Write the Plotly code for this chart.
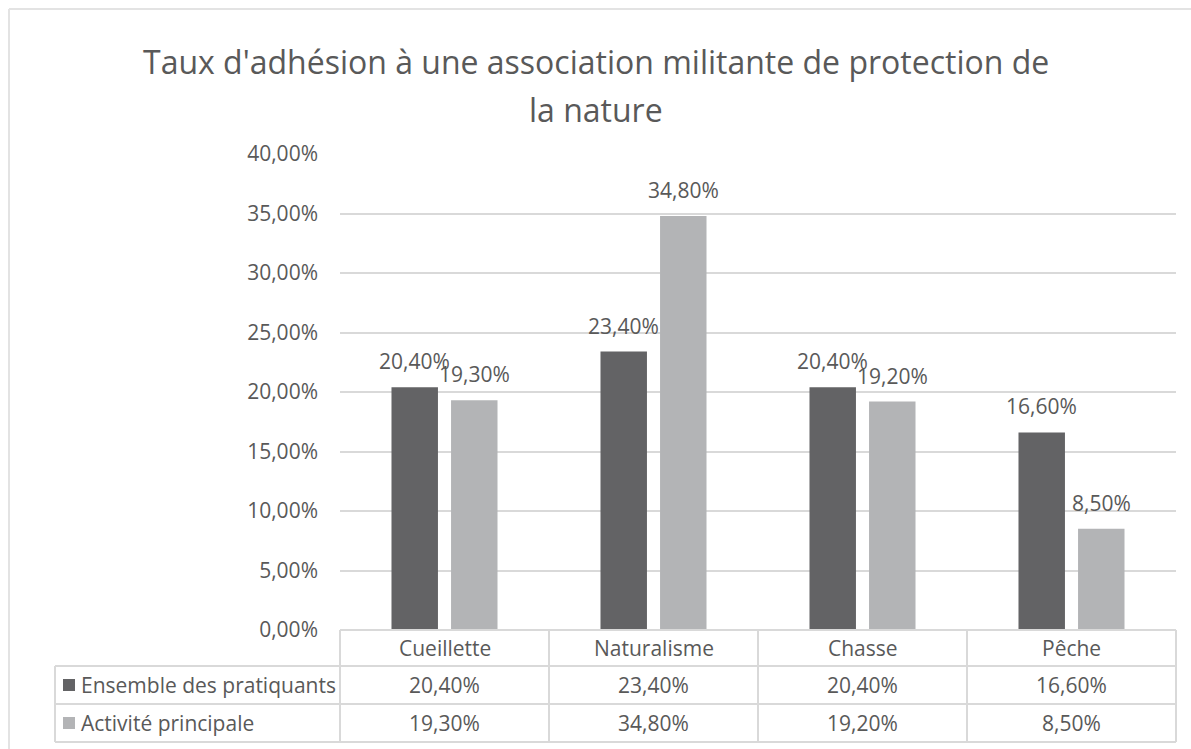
import plotly.graph_objects as go

# Data
categories = ["Cueillette", "Naturalisme", "Chasse", "Pêche"]
series_names = ["Ensemble des pratiquants", "Activité principale"]
ensemble = [20.4, 23.4, 20.4, 16.6]
principale = [19.3, 34.8, 19.2, 8.5]
tick_values = [0, 5, 10, 15, 20, 25, 30, 35, 40]

title_lines = ["Taux d'adhésion à une association militante de protection de", "la nature"]

W, H = 1191, 749
colors = ["#636365", "#b3b4b6"]
text_color = "#595959"
line_color = "#d9d9d9"
font_family = "Open Sans, Noto Sans, sans-serif"
label_size = 21


def pct(v):
    return f"{v:.2f}%".replace(".", ",")


def px(x):
    return x / W


def py(y):
    return 1 - y / H


# Plot area geometry (pixels)
plot_left, plot_right = 340, 1176
plot_top, plot_bottom = 154, 630
row_lines = [630, 666, 704, 742]
table_left = 55

fig = go.Figure()
series = [ensemble, principale]
for name, vals, col in zip(series_names, series, colors):
    fig.add_trace(go.Bar(
        x=categories, y=vals, name=name,
        marker=dict(color=col, line=dict(width=0)),
        showlegend=False, hoverinfo="skip",
    ))

annotations = []
shapes = []

# Value labels above bars
slot = 59.5
for i, vals in enumerate(series):
    for cat, v in zip(categories, vals):
        annotations.append(dict(
            x=cat, y=v, xref="x", yref="y",
            text=pct(v),
            showarrow=False, xshift=(i - 0.5) * slot, yshift=10,
            yanchor="bottom", xanchor="center",
            font=dict(size=label_size, color=text_color, family=font_family),
        ))

# Title
for line, yc in zip(title_lines, [62, 110]):
    annotations.append(dict(
        x=px(596), y=py(yc), xref="paper", yref="paper",
        text=line, showarrow=False, xanchor="center", yanchor="middle",
        font=dict(size=32, color=text_color, family=font_family),
    ))

# Data table
col_w = (plot_right - plot_left) / len(categories)
col_edges = [plot_left + k * col_w for k in range(len(categories) + 1)]

shapes.append(dict(type="line", xref="paper", yref="paper",
                   x0=px(plot_left), x1=px(plot_right), y0=py(row_lines[0]), y1=py(row_lines[0]),
                   line=dict(color=line_color, width=2)))
for yl in row_lines[1:]:
    shapes.append(dict(type="line", xref="paper", yref="paper",
                       x0=px(table_left), x1=px(plot_right), y0=py(yl), y1=py(yl),
                       line=dict(color=line_color, width=2)))
shapes.append(dict(type="line", xref="paper", yref="paper",
                   x0=px(table_left), x1=px(table_left), y0=py(row_lines[1]), y1=py(row_lines[-1]),
                   line=dict(color=line_color, width=2)))
for xe in col_edges:
    shapes.append(dict(type="line", xref="paper", yref="paper",
                       x0=px(xe), x1=px(xe), y0=py(row_lines[0]), y1=py(row_lines[-1]),
                       line=dict(color=line_color, width=2)))

for k, cat in enumerate(categories):
    cx = (col_edges[k] + col_edges[k + 1]) / 2
    annotations.append(dict(
        x=px(cx), y=py((row_lines[0] + row_lines[1]) / 2), xref="paper", yref="paper",
        text=cat, showarrow=False, xanchor="center", yanchor="middle",
        font=dict(size=label_size, color=text_color, family=font_family),
    ))

for r, (name, vals, col) in enumerate(zip(series_names, series, colors)):
    yc = (row_lines[r + 1] + row_lines[r + 2]) / 2
    shapes.append(dict(type="rect", xref="paper", yref="paper",
                       x0=px(63), x1=px(75), y0=py(yc - 6), y1=py(yc + 6),
                       fillcolor=col, line=dict(width=0)))
    annotations.append(dict(
        x=px(79), y=py(yc), xref="paper", yref="paper",
        text=name, showarrow=False, xanchor="left", yanchor="middle",
        font=dict(size=label_size, color=text_color, family=font_family),
    ))
    for k, v in enumerate(vals):
        cx = (col_edges[k] + col_edges[k + 1]) / 2
        annotations.append(dict(
            x=px(cx), y=py(yc), xref="paper", yref="paper",
            text=pct(v), showarrow=False,
            xanchor="center", yanchor="middle",
            font=dict(size=label_size, color=text_color, family=font_family),
        ))

# Chart frame (left and top edges visible)
shapes.append(dict(type="line", xref="paper", yref="paper",
                   x0=px(9), x1=1, y0=py(9), y1=py(9),
                   line=dict(color="#e3e3e3", width=2)))
shapes.append(dict(type="line", xref="paper", yref="paper",
                   x0=px(9), x1=px(9), y0=0, y1=py(9),
                   line=dict(color="#e3e3e3", width=2)))

fig.update_layout(
    width=W, height=H, autosize=False,
    margin=dict(l=0, r=0, t=0, b=0, pad=0, autoexpand=False),
    paper_bgcolor="white", plot_bgcolor="white",
    font=dict(family=font_family, color=text_color),
    barmode="group", bargap=0.43, bargroupgap=0.22,
    xaxis=dict(domain=[px(plot_left), px(plot_right)], showticklabels=False,
               showgrid=False, zeroline=False, showline=False, ticks="",
               automargin=False),
    yaxis=dict(domain=[py(plot_bottom), py(plot_top)], range=[0, 40],
               tickmode="array", tickvals=tick_values,
               ticktext=[pct(t) for t in tick_values],
               showgrid=True, gridcolor=line_color, gridwidth=2,
               zeroline=False, showline=False, ticks="",
               ticklabelstandoff=21, automargin=False,
               tickfont=dict(size=label_size, color=text_color, family=font_family)),
    annotations=annotations,
    shapes=shapes,
)

fig.write_html("out.html")
